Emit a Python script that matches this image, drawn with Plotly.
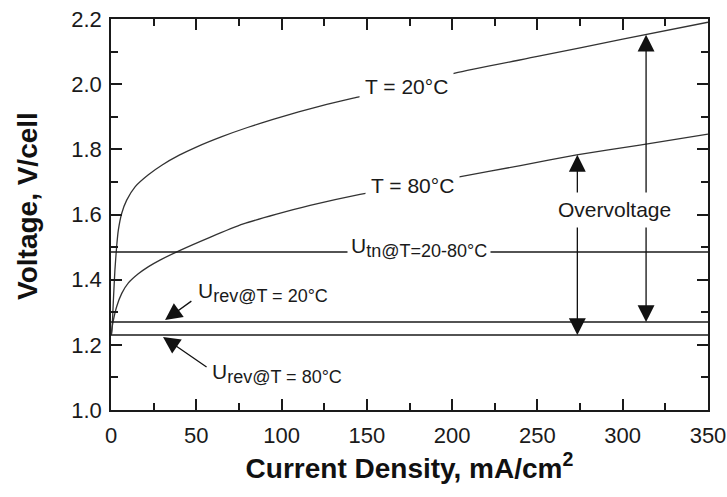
import plotly.graph_objects as go

# ---- data ----
current_20 = [0, 0.4, 1.4, 2.3, 3.3, 4.3, 6.3, 9.2, 14.1, 21.9, 30, 40, 50, 65, 80, 95, 110, 126.5, 142, 201.7, 250, 300, 350]
voltage_20 = [1.23, 1.235, 1.337, 1.43, 1.501, 1.552, 1.604, 1.644, 1.685, 1.722, 1.752, 1.782, 1.807, 1.839, 1.867, 1.892, 1.915, 1.938, 1.957, 2.034, 2.085, 2.138, 2.19]

current_80 = [0, 0.4, 1.4, 3.3, 6.3, 10.2, 16, 22, 28.7, 40.5, 58, 77.6, 97.1, 116.7, 146, 203.4, 240, 273, 310, 350]
voltage_80 = [1.23, 1.245, 1.276, 1.317, 1.358, 1.39, 1.418, 1.44, 1.46, 1.49, 1.530, 1.571, 1.601, 1.628, 1.662, 1.715, 1.75, 1.783, 1.813, 1.847]

u_tn = 1.485
u_rev_20 = 1.27
u_rev_80 = 1.23

x_ticks = [0, 50, 100, 150, 200, 250, 300, 350]
y_ticks = [1.0, 1.2, 1.4, 1.6, 1.8, 2.0, 2.2]
y_tick_labels = ["1.0", "1.2", "1.4", "1.6", "1.8", "2.0", "2.2"]

FONT = "Liberation Sans, Arial, sans-serif"
TXT = "#1a1a1a"

fig = go.Figure()

fig.add_trace(go.Scatter(x=current_20, y=voltage_20, mode="lines",
                         line=dict(color="#333333", width=1.3, shape="spline", smoothing=0.5),
                         hoverinfo="skip", showlegend=False))
fig.add_trace(go.Scatter(x=current_80, y=voltage_80, mode="lines",
                         line=dict(color="#333333", width=1.3, shape="spline", smoothing=0.5),
                         hoverinfo="skip", showlegend=False))

for lvl in (u_tn, u_rev_20, u_rev_80):
    fig.add_shape(type="line", xref="x", yref="y", x0=0, x1=350, y0=lvl, y1=lvl,
                  line=dict(color="#1a1a1a", width=1.6))

ann = []
# curve labels (white background hides the curve behind them)
ann.append(dict(x=173.2, y=1.994, text="T = 20°C", showarrow=False,
                font=dict(size=21, color=TXT, family=FONT), bgcolor="white", borderpad=5))
ann.append(dict(x=176.8, y=1.69, text="T = 80°C", showarrow=False,
                font=dict(size=21, color=TXT, family=FONT), bgcolor="white", borderpad=5))
ann.append(dict(x=180.5, y=1.50,
                text="U<sub><span style='font-size:18px'>tn@T=20-80°C</span></sub>",
                showarrow=False, font=dict(size=21, color=TXT, family=FONT),
                bgcolor="white", borderpad=3))
ann.append(dict(x=89.4, y=1.36,
                text="U<sub><span style='font-size:18px'>rev@T = 20°C</span></sub>",
                showarrow=False, font=dict(size=21, color=TXT, family=FONT)))
ann.append(dict(x=97.5, y=1.112,
                text="U<sub><span style='font-size:18px'>rev@T = 80°C</span></sub>",
                showarrow=False, font=dict(size=21, color=TXT, family=FONT)))
ann.append(dict(x=294.9, y=1.614, text="Overvoltage", showarrow=False,
                font=dict(size=21, color=TXT, family=FONT)))
# y-axis title (placed as annotation to match the reference's slight upward offset)
ann.append(dict(xref="paper", yref="paper", x=-0.139, y=0.522, text="<b>Voltage, V/cell</b>",
                textangle=-90, showarrow=False, xanchor="center", yanchor="middle",
                font=dict(size=28, color="#111111", family=FONT)))

# arrows
arrow_style = dict(showarrow=True, text="", arrowhead=2, arrowsize=2.6, arrowwidth=1.3,
                   arrowcolor="#111111", axref="x", ayref="y", xref="x", yref="y", standoff=0)
arrows = [
    (273.4, 1.783, 273.4, 1.663),
    (273.4, u_rev_80, 273.4, 1.565),
    (313.7, 2.152, 313.7, 1.663),
    (313.7, u_rev_20, 313.7, 1.565),
    (31.7, 1.276, 48.0, 1.3375),
    (30.5, 1.224, 56.9, 1.129),
]
for (hx, hy, tx, ty) in arrows:
    a = dict(arrow_style)
    a.update(x=hx, y=hy, ax=tx, ay=ty)
    ann.append(a)

axis_common = dict(showline=True, linecolor="#1a1a1a", linewidth=1.6, mirror="ticks",
                   ticks="inside", ticklen=11, tickwidth=1.5, tickcolor="#1a1a1a",
                   showgrid=False, zeroline=False,
                   tickfont=dict(size=22, color=TXT, family=FONT))

fig.update_xaxes(range=[0, 350], tickvals=x_ticks,
                 minor=dict(dtick=25, tick0=0, ticks="inside", ticklen=7, tickwidth=1.5,
                            tickcolor="#1a1a1a", showgrid=False),
                 title=dict(text="<b>Current Density, mA/cm<sup>2</sup></b>",
                            font=dict(size=28, color="#111111", family=FONT), standoff=10),
                 ticklabelstandoff=5,
                 **axis_common)
fig.update_yaxes(range=[1.0, 2.2], tickvals=y_ticks, ticktext=y_tick_labels,
                 minor=dict(dtick=0.1, tick0=1.0, ticks="inside", ticklen=7, tickwidth=1.5,
                            tickcolor="#1a1a1a", showgrid=False),
                 ticklabelstandoff=3,
                 **axis_common)

fig.update_layout(width=727, height=497,
                  margin=dict(l=111, r=19, t=19, b=87, autoexpand=False),
                  paper_bgcolor="white", plot_bgcolor="white",
                  annotations=ann, showlegend=False)

fig.write_html("out.html", config={"displayModeBar": False},
               post_script="document.body.style.margin='0px';")
